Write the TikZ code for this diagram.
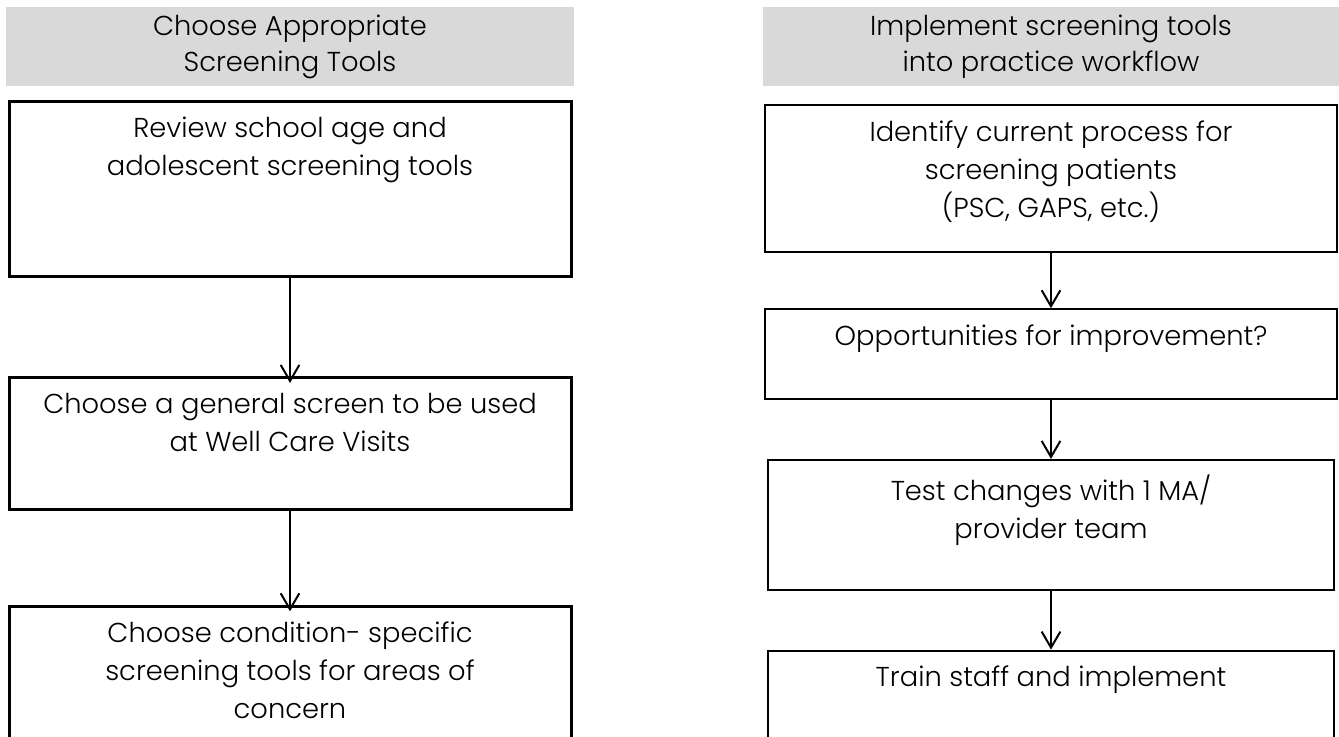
\documentclass[tikz,border=0pt]{standalone}
\usepackage{fontspec}
\setmainfont{Poppins}[UprightFont=* Light]
\usetikzlibrary{positioning}
\usetikzlibrary{arrows.meta}

\definecolor{headgray}{HTML}{D9D9D9}
\newcommand{\boxlines}[3]{\parbox[c][#1][t]{#2}{\centering\vspace*{11.5pt}#3\par}}

\begin{document}
\begin{tikzpicture}
      [x=0.75pt, y=0.75pt,
       every node/.style={font=\fontsize{20.5}{28.5}\selectfont},
       head/.style={fill=headgray, inner sep=0pt, minimum height=59.25pt, align=center,
                    font=\fontsize{20.5}{27}\selectfont},
       leftbox/.style={draw, line width=2.25pt, inner sep=0pt},
       rightbox/.style={draw, line width=1.5pt, inner sep=0pt},
       flow/.style={-{Straight Barb[length=12pt,width=14pt]}, line width=1.5pt}]
    \useasboundingbox (0,0) rectangle (1339,736);

    % left column
    \node[head, minimum width=426pt]  (LH)  at (290,689.5) {Choose Appropriate\\Screening Tools};
    \node[leftbox]  (L1)  [below=10.5pt of LH]
          {\boxlines{131.25pt}{421.5pt}{Review school age and\\adolescent screening tools}};
    \node[leftbox]  (L2)  [below=73.5pt of L1]
          {\boxlines{99pt}{421.5pt}{Choose a general screen to be used\\at Well Care Visits}};
    \node[leftbox]  (L3)  [below=70pt of L2]
          {\boxlines{120pt}{421.5pt}{Choose condition- specific\\screening tools for areas of\\concern}};

    % right column
    \node[head, minimum width=432pt]  (RH)  at (1051,689.5) {Implement screening tools\\into practice workflow};
    \node[rightbox]  (R1)  [below=13.5pt of RH]
          {\boxlines{110.25pt}{429pt}{Identify current process for\\screening patients\\(PSC, GAPS, etc.)}};
    \node[rightbox]  (R2)  [below=41.25pt of R1]
          {\boxlines{67.5pt}{429pt}{Opportunities for improvement?}};
    \node[rightbox]  (R3)  [below=44pt of R2]
          {\boxlines{97.5pt}{424pt}{Test changes with 1 MA/\\provider team}};
    \node[rightbox]  (R4)  [below=44pt of R3]
          {\boxlines{120pt}{424pt}{Train staff and implement}};

    \draw[flow, shorten >=-5pt] (L1) -- (L2);
    \draw[flow, shorten >=-5pt] (L2) -- (L3);
    \draw[flow] (R1) -- (R2);
    \draw[flow] (R2) -- (R3);
    \draw[flow] (R3) -- (R4);
\end{tikzpicture}
\end{document}
